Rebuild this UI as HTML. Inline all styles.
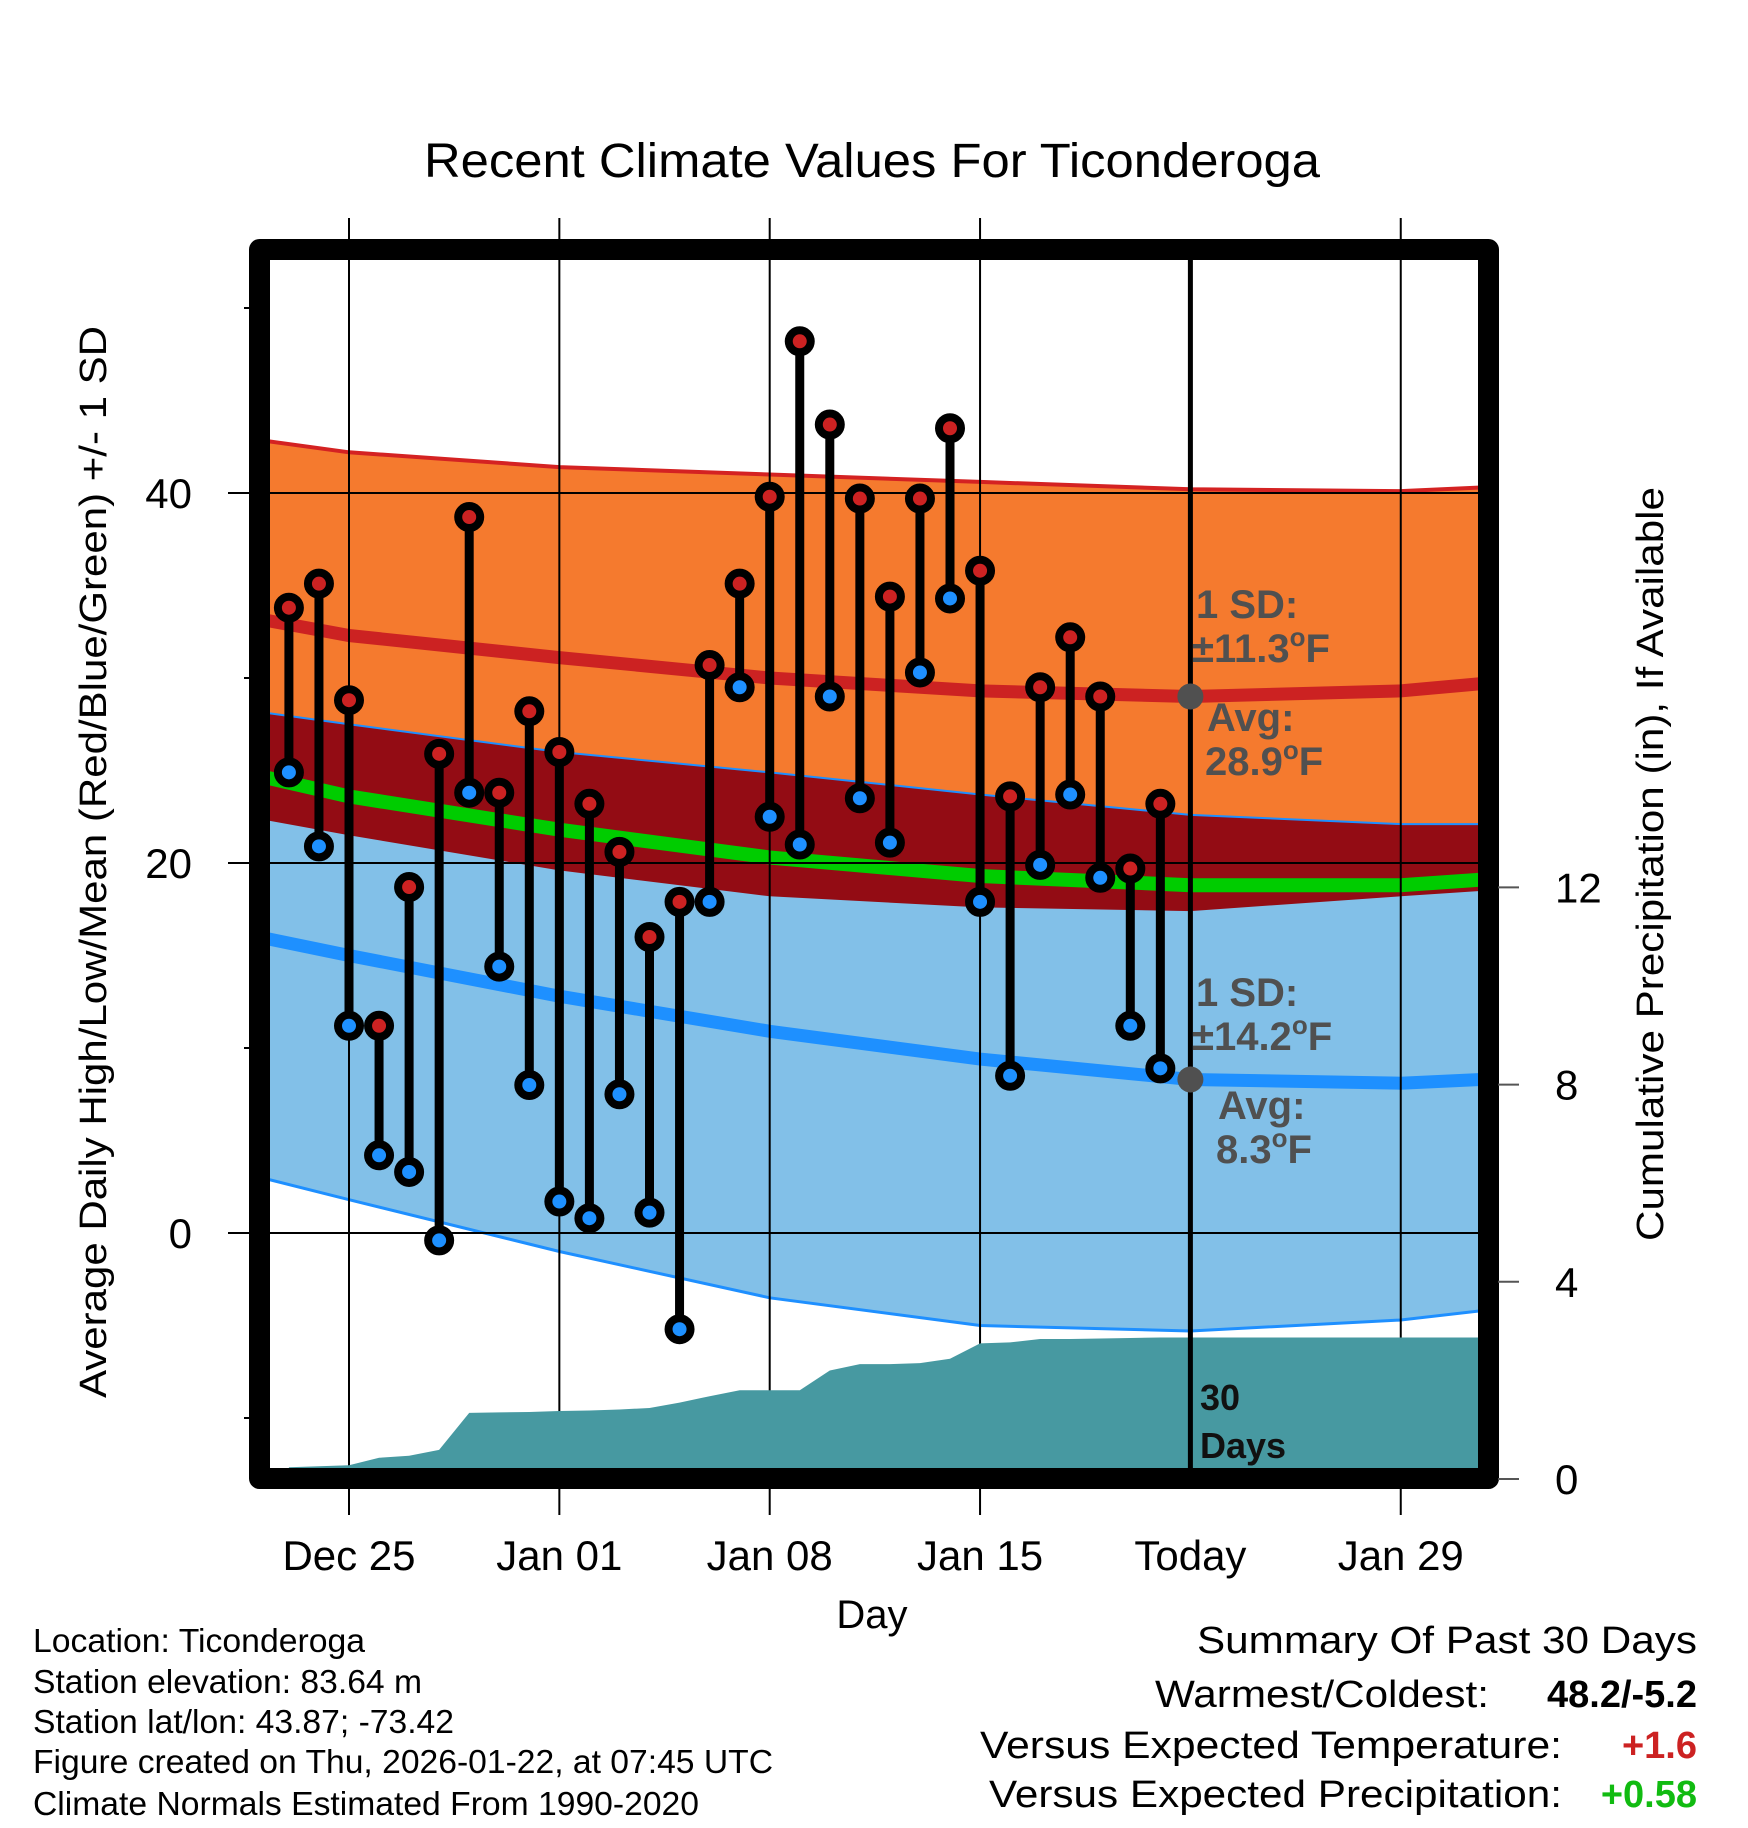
<!DOCTYPE html>
<html><head><meta charset="utf-8"><style>
html,body{margin:0;padding:0;background:#fff;}
svg{display:block;font-family:"Liberation Sans",Arial,sans-serif;}
</style></head><body>
<svg id="chart" width="1748" height="1828" viewBox="0 0 1748 1828" xmlns="http://www.w3.org/2000/svg">
<defs><clipPath id="plotclip"><rect x="270" y="260" width="1208" height="1208"/></clipPath></defs>
<rect x="0" y="0" width="1748" height="1828" fill="#fff"/>
<text x="872" y="177" font-size="48" text-anchor="middle" textLength="896" lengthAdjust="spacingAndGlyphs">Recent Climate Values For Ticonderoga</text>
<g id="bands" clip-path="url(#plotclip)"></g>
<g id="grid"></g>
<g id="precip" clip-path="url(#plotclip)"></g>
<g id="marks"></g>
<g id="annot"></g>
<rect x="259.5" y="249.5" width="1229" height="1229" fill="none" stroke="#000" stroke-width="21" stroke-linejoin="round"/>
<g id="axes"></g>
<text transform="translate(106,862) rotate(-90)" font-size="38" text-anchor="middle" textLength="1072" lengthAdjust="spacingAndGlyphs">Average Daily High/Low/Mean (Red/Blue/Green) +/- 1 SD</text>
<text transform="translate(1663,864) rotate(-90)" font-size="38" text-anchor="middle" textLength="754" lengthAdjust="spacingAndGlyphs">Cumulative Precipitation (in), If Available</text>
<text x="872" y="1628" font-size="40" text-anchor="middle">Day</text>
<g font-size="33" lengthAdjust="spacingAndGlyphs">
<text x="33" y="1652" textLength="332" lengthAdjust="spacingAndGlyphs">Location: Ticonderoga</text>
<text x="33" y="1693" textLength="389" lengthAdjust="spacingAndGlyphs">Station elevation: 83.64 m</text>
<text x="33" y="1733" textLength="421" lengthAdjust="spacingAndGlyphs">Station lat/lon: 43.87; -73.42</text>
<text x="33" y="1773" textLength="740" lengthAdjust="spacingAndGlyphs">Figure created on Thu, 2026-01-22, at 07:45 UTC</text>
<text x="33" y="1815" textLength="666" lengthAdjust="spacingAndGlyphs">Climate Normals Estimated From 1990-2020</text>
</g>
<g font-size="38">
<text x="1197" y="1653" textLength="500" lengthAdjust="spacingAndGlyphs">Summary Of Past 30 Days</text>
<text x="1155" y="1707" textLength="334" lengthAdjust="spacingAndGlyphs">Warmest/Coldest:</text>
<text x="1697" y="1707" text-anchor="end" font-weight="bold">48.2/-5.2</text>
<text x="980" y="1758" textLength="582" lengthAdjust="spacingAndGlyphs">Versus Expected Temperature:</text>
<text x="1697" y="1758" text-anchor="end" font-weight="bold" fill="#cc2222">+1.6</text>
<text x="989" y="1807" textLength="573" lengthAdjust="spacingAndGlyphs">Versus Expected Precipitation:</text>
<text x="1697" y="1807" text-anchor="end" font-weight="bold" fill="#11bb11">+0.58</text>
</g>
</svg>
<script>
// ---- data ----
const dayOffsets = [-2,-1,0,1,2,3,4,5,6,7,8,9,10,11,12,13,14,15,16,17,18,19,20,21,22,23,24,25,26,27];
const highs = [33.8,35.1,28.8,11.2,18.7,25.9,38.7,23.8,28.2,26.0,23.2,20.6,16.0,17.9,30.7,35.1,39.8,48.2,43.7,39.7,34.4,39.7,43.5,35.8,23.6,29.5,32.2,29.0,19.7,23.2];
const lows  = [24.9,20.9,11.2,4.2,3.3,-0.4,23.8,14.4,8.0,1.7,0.8,7.5,1.1,-5.2,17.9,29.5,22.5,21.0,29.0,23.5,21.1,30.3,34.3,17.9,8.5,19.9,23.7,19.2,11.2,8.9];
const precipCum = [0.24,0.26,0.28,0.43,0.47,0.59,1.34,1.35,1.36,1.38,1.39,1.41,1.44,1.55,1.68,1.80,1.80,1.80,2.20,2.33,2.33,2.35,2.44,2.75,2.77,2.84,2.84,2.85,2.86,2.87];
const normDays = [-2.7,0,7,14,21,28,35,37.7];
const hiTop  = [42.8,42.2,41.4,41.0,40.6,40.2,40.1,40.3];
const hiMean = [33.1,32.3,31.1,30.0,29.3,29.0,29.3,29.7];
const hiBot  = [22.3,21.5,19.6,18.2,17.6,17.4,18.2,18.5];
const loTop  = [28.1,27.5,26.0,24.9,23.7,22.6,22.1,22.1];
const loMean = [15.9,15.0,12.8,10.9,9.4,8.3,8.1,8.3];
const loBot  = [2.9,1.8,-1.0,-3.5,-5.0,-5.3,-4.7,-4.2];
const avgMean= [24.6,23.6,21.8,20.3,19.3,18.8,18.8,19.1];
const xTickDays = [0,7,14,21,28,35];
const xTickLabels = ["Dec 25","Jan 01","Jan 08","Jan 15","Today","Jan 29"];
const yTicks = [0,20,40];
const yMinor = [-10,10,30,50];
const y2Ticks = [0,4,8,12];
const todayDay = 28;

// ---- scales ----
const xS = d => 349 + 30.05*d;
const yT = t => 1233 - 18.5*t;
const yP = p => 1479 - 49.3*p;
const NS = "http://www.w3.org/2000/svg";
function mk(tag, attrs, parent){ const e=document.createElementNS(NS,tag); for(const k in attrs) e.setAttribute(k,attrs[k]); parent.appendChild(e); return e; }
const pts = arr => normDays.map((d,i)=>[xS(d),yT(arr[i])]);
const line = p => p.map((q,i)=>(i?'L':'M')+q[0].toFixed(1)+' '+q[1].toFixed(1)).join(' ');
function band(top,bot){ const a=pts(top), b=pts(bot).reverse(); return line(a)+' '+b.map(q=>'L'+q[0].toFixed(1)+' '+q[1].toFixed(1)).join(' ')+' Z'; }

const bands=document.getElementById('bands');
let e;
e=mk('path',{d:band(hiTop,hiBot),fill:'#f57a2e'},bands);
 
e=mk('path',{d:band(loTop,loBot),fill:'#82c0e8'},bands);
 
e=mk('path',{d:band(loTop,hiBot),fill:'#930c14'},bands);
 
e=mk('path',{d:line(pts(hiTop)),fill:'none',stroke:'#d42222','stroke-width':4},bands);
 
e=mk('path',{d:line(pts(loTop)),fill:'none',stroke:'#1e8fff','stroke-width':2},bands);
 
e=mk('path',{d:line(pts(loBot)),fill:'none',stroke:'#1e8fff','stroke-width':3},bands);
 
e=mk('path',{d:line(pts(avgMean)),fill:'none',stroke:'#00cc00','stroke-width':14},bands);
 
e=mk('path',{d:line(pts(hiMean)),fill:'none',stroke:'#cc2222','stroke-width':13},bands);
 
e=mk('path',{d:line(pts(loMean)),fill:'none',stroke:'#1e90ff','stroke-width':13},bands);
 

// grid
const grid=document.getElementById('grid');
xTickDays.forEach(d=>{
  if(d===todayDay) return;
  e=mk('line',{x1:xS(d),x2:xS(d),y1:218,y2:1515,stroke:'#000','stroke-width':2},grid);
   
});
yTicks.forEach(t=>{
  e=mk('line',{x1:228,x2:1478,y1:yT(t),y2:yT(t),stroke:'#000','stroke-width':2},grid);
   
});

// precip
const pr=document.getElementById('precip');
let pd='M'+xS(dayOffsets[0])+' '+yP(0);
dayOffsets.forEach((d,i)=>{ pd+=' L'+xS(d).toFixed(1)+' '+yP(precipCum[i]).toFixed(1); });
pd+=' L1480 '+yP(precipCum[precipCum.length-1]).toFixed(1)+' L1480 '+yP(0)+' Z';
e=mk('path',{d:pd,fill:'#4799a1'},pr);
 

// marks
const marks=document.getElementById('marks');
dayOffsets.forEach((d,i)=>{
  const x=xS(d);
  e=mk('line',{x1:x,x2:x,y1:yT(highs[i]),y2:yT(lows[i]),stroke:'#000','stroke-width':9},marks);
   
});
dayOffsets.forEach((d,i)=>{
  const x=xS(d);
  e=mk('circle',{cx:x,cy:yT(highs[i]),r:11,fill:'#cc2222',stroke:'#000','stroke-width':8},marks);
   
  e=mk('circle',{cx:x,cy:yT(lows[i]),r:11,fill:'#1e90ff',stroke:'#000','stroke-width':8},marks);
   
});
e=mk('line',{x1:xS(todayDay),x2:xS(todayDay),y1:260,y2:1470,stroke:'#000','stroke-width':5},marks);
 

// annotations
const an=document.getElementById('annot');
const ti=normDays.indexOf(todayDay);
e=mk('circle',{cx:xS(todayDay),cy:yT(hiMean[ti]),r:13,fill:'#505050'},an);
 
e=mk('circle',{cx:xS(todayDay),cy:yT(loMean[ti]),r:13,fill:'#505050'},an);
 
function atext(x,y,html,name,size,fill){ const t=mk('text',{x:x,y:y,'font-size':size||40,'font-weight':'bold',fill:fill||'#505050'},an); t.innerHTML=html;   return t; }
const deg='<tspan font-size="26" dy="-16">o</tspan><tspan dy="16">F</tspan>';
atext(1196,618,'1 SD:','high-sd-label');
atext(1192,662,'±11.3'+deg,'high-sd-value');
atext(1207,731,'Avg:','high-avg-label');
atext(1205,775,'28.9'+deg,'high-avg-value');
atext(1196,1006,'1 SD:','low-sd-label');
atext(1192,1050,'±14.2'+deg,'low-sd-value');
atext(1218,1119,'Avg:','low-avg-label');
atext(1216,1163,'8.3'+deg,'low-avg-value');
atext(1200,1410,'30','days-label-1',36,'#111');
atext(1200,1458,'Days','days-label-2',36,'#111');

// axes
const ax=document.getElementById('axes');
xTickDays.forEach((d,i)=>{
  e=mk('text',{x:xS(d),y:1570,'font-size':42,'text-anchor':'middle'},ax);
  e.textContent=xTickLabels[i];
   
});
yTicks.forEach(t=>{
  e=mk('text',{x:192,y:yT(t)+15,'font-size':42,'text-anchor':'end'},ax);
  e.textContent=String(t);
   
});
yMinor.forEach(t=>{
  e=mk('line',{x1:244,x2:250,y1:yT(t),y2:yT(t),stroke:'#000','stroke-width':2},ax);
   
});
y2Ticks.forEach(p=>{
  e=mk('line',{x1:1498,x2:1519,y1:yP(p),y2:yP(p),stroke:'#555','stroke-width':2},ax);
   
  e=mk('text',{x:1555,y:yP(p)+15,'font-size':42},ax);
  e.textContent=String(p);
   
});
</script>
</body></html>
